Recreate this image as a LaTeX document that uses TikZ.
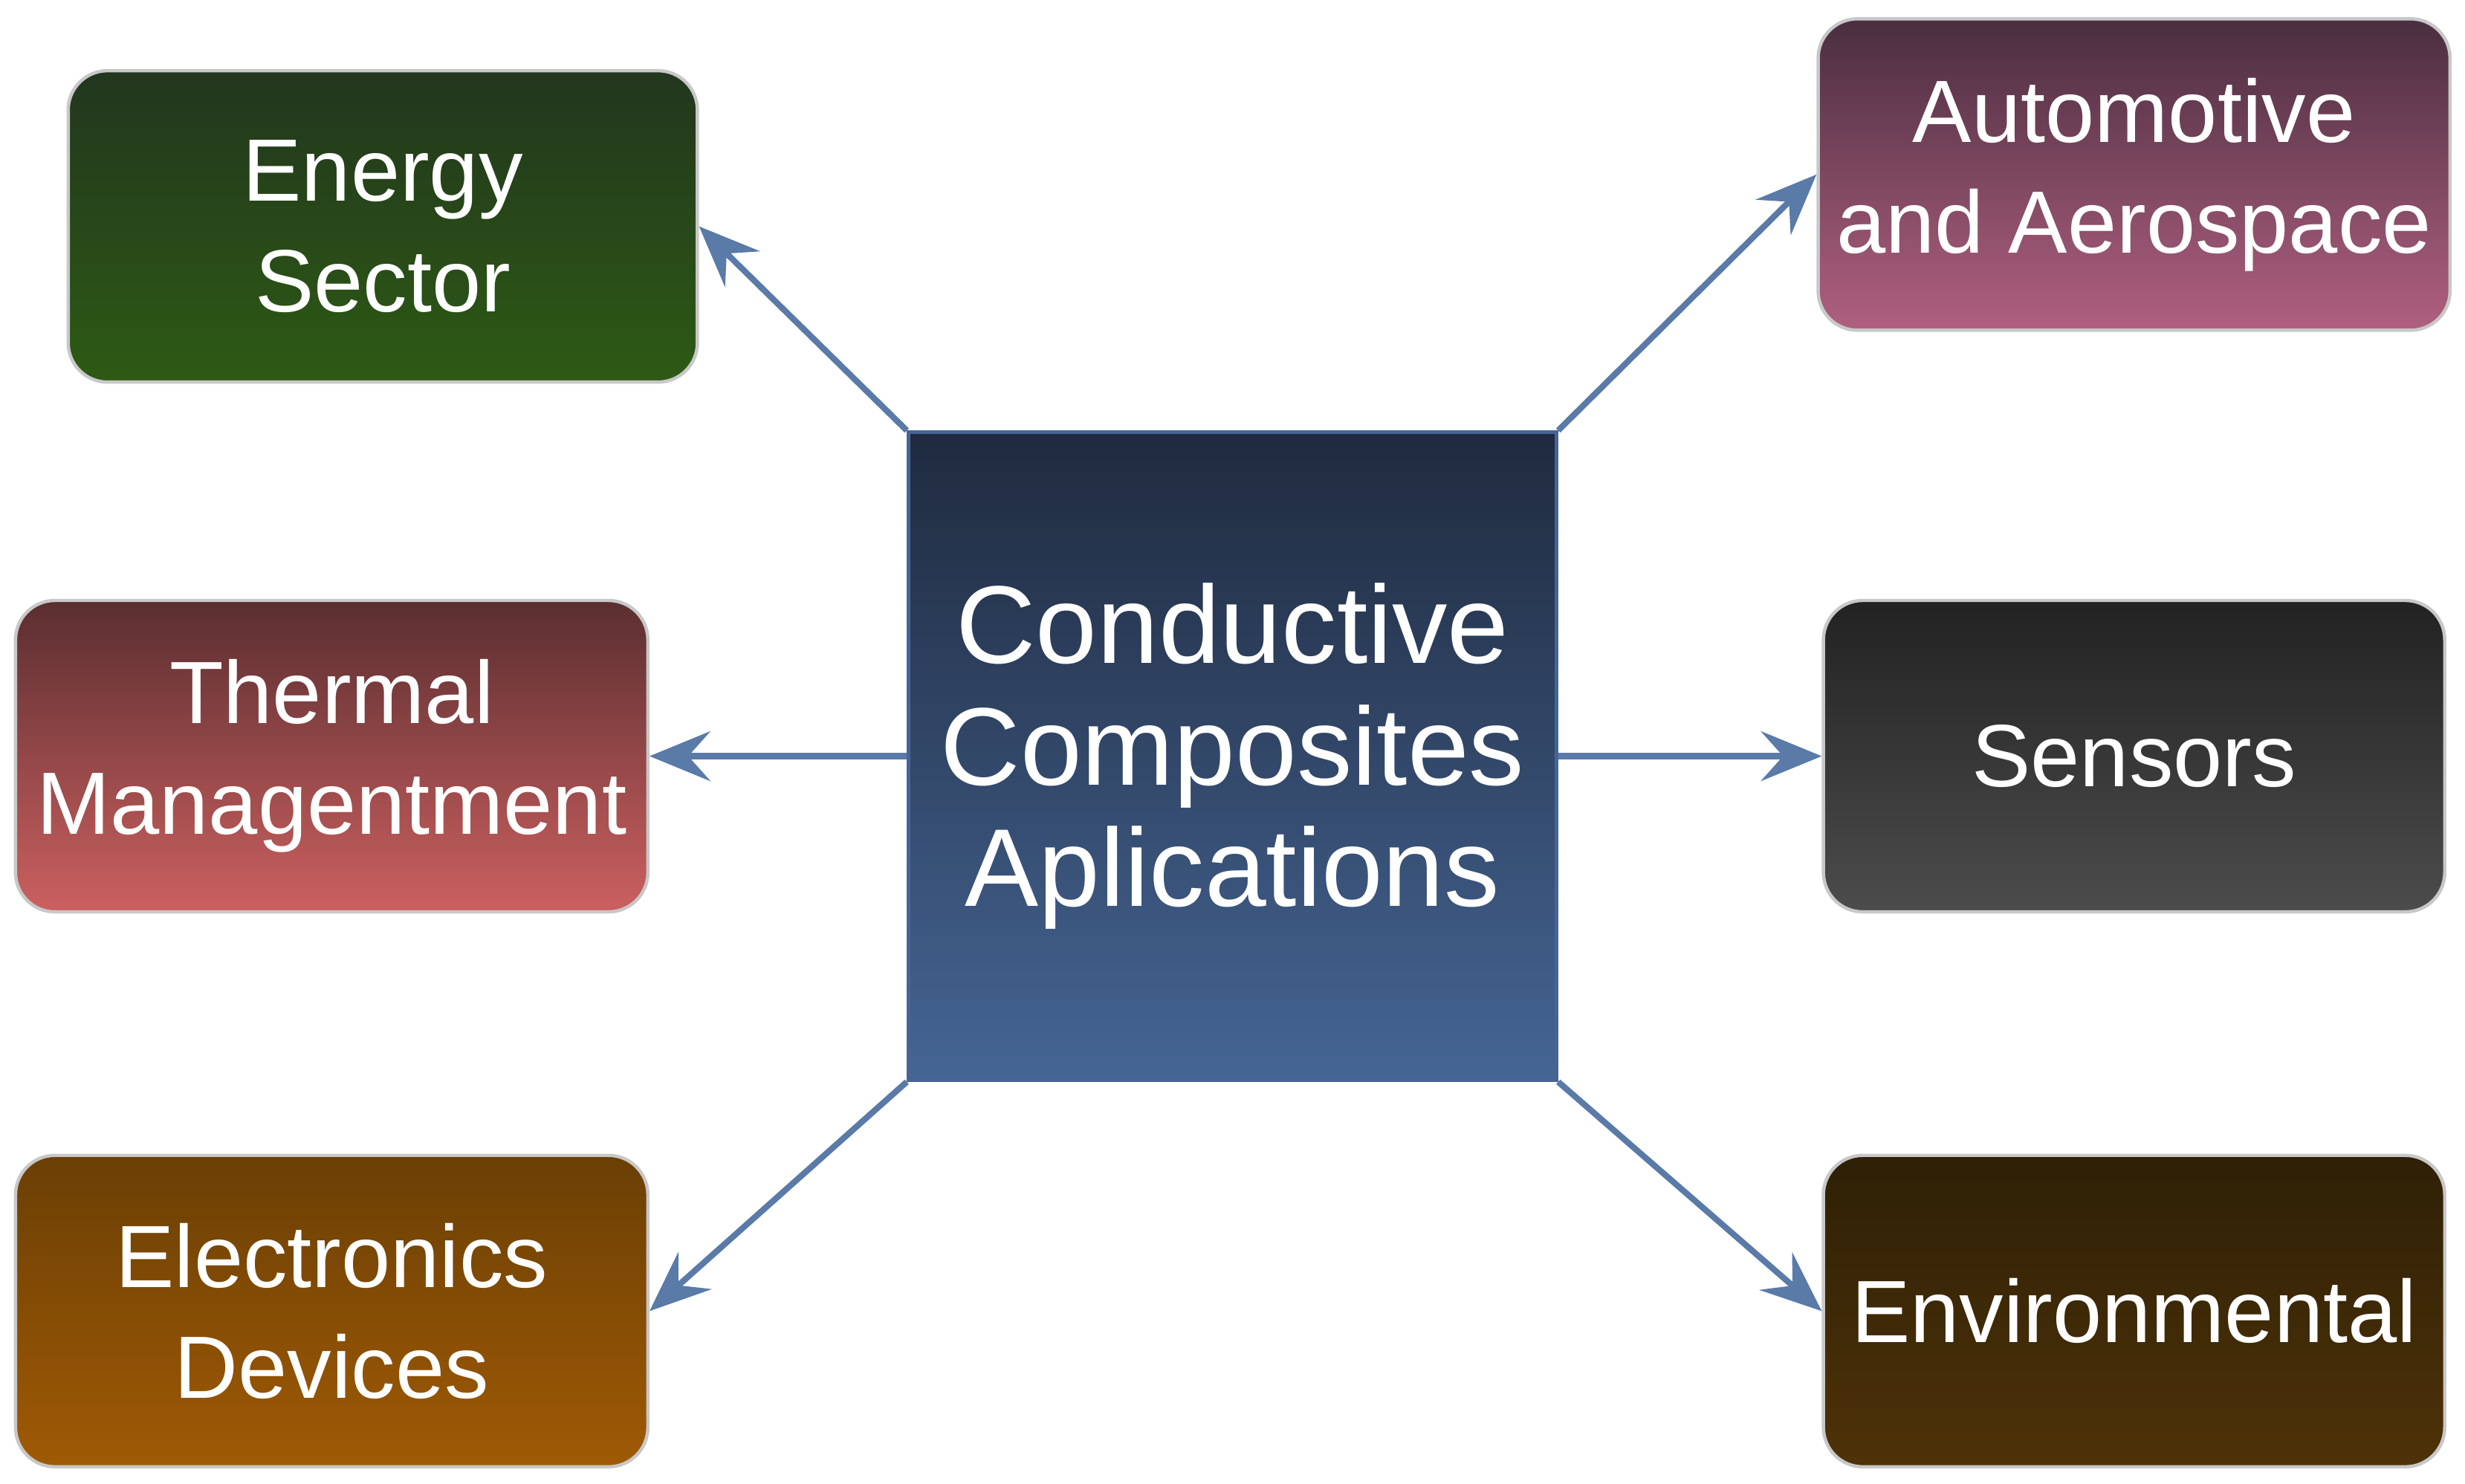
\documentclass[tikz,border=0pt]{standalone}
\usepackage{fontspec}
\setmainfont{Liberation Sans}
\usetikzlibrary{arrows.meta}
\definecolor{arr}{HTML}{5A7AA8}
\definecolor{enT}{RGB}{34,54,30}\definecolor{enB}{RGB}{45,90,20}
\definecolor{auT}{RGB}{74,46,64}\definecolor{auB}{RGB}{176,96,127}
\definecolor{thT}{RGB}{90,46,48}\definecolor{thB}{RGB}{204,96,96}
\definecolor{seT}{RGB}{34,34,34}\definecolor{seB}{RGB}{76,76,76}
\definecolor{elT}{RGB}{106,63,5}\definecolor{elB}{RGB}{160,90,5}
\definecolor{evT}{RGB}{46,32,6}\definecolor{evB}{RGB}{78,50,8}
\definecolor{cT}{RGB}{31,42,62}\definecolor{cB}{RGB}{69,101,148}
\definecolor{cD}{RGB}{70,100,150}
\definecolor{bd}{RGB}{200,200,200}
\begin{document}
\begin{tikzpicture}[x=0.01cm,y=-0.01cm,
  box/.style n args={2}{rounded corners=0.25cm,minimum width=4.0cm,minimum height=1.98cm,
    align=center,text=white,font=\fontsize{16}{20}\selectfont,draw=bd,line width=0.6pt,
    top color=#1,bottom color=#2},
  conn/.style={draw=arr,line width=1.1pt,-{Stealth[length=11pt,width=9pt,inset=4pt]}}]
\fill[white] (0,0) rectangle (1568,944);
\node[box={enT}{enB}] (en) at (243.5,144) {Energy\\Sector};
\node[box={auT}{auB}, minimum width=3.95cm] (au) at (1357.5,111) {Automotive\\and Aerospace};
\node[box={thT}{thB}, minimum width=4.02cm] (th) at (211,481) {Thermal\\Managentment};
\node[box={seT}{seB}, minimum width=3.95cm] (se) at (1357.5,481) {Sensors};
\node[box={elT}{elB}, minimum width=4.02cm] (el) at (211,834) {Electronics\\Devices};
\node[box={evT}{evB}, minimum width=3.95cm] (ev) at (1357.5,834) {Environmental};
\node[draw=cD,line width=0.6pt,minimum width=4.12cm,minimum height=4.12cm,align=center,text=white,
  font=\fontsize{20}{22}\selectfont, top color=cT, bottom color=cB] (c) at (784,481) {Conductive\\Composites\\Aplications};
\draw[conn] (c.north west) -- (en.east);
\draw[conn] (c.north east) -- (au.west);
\draw[conn] (c.west) -- (th.east);
\draw[conn] (c.east) -- (se.west);
\draw[conn] (c.south west) -- (el.east);
\draw[conn] (c.south east) -- (ev.west);
\end{tikzpicture}
\end{document}
